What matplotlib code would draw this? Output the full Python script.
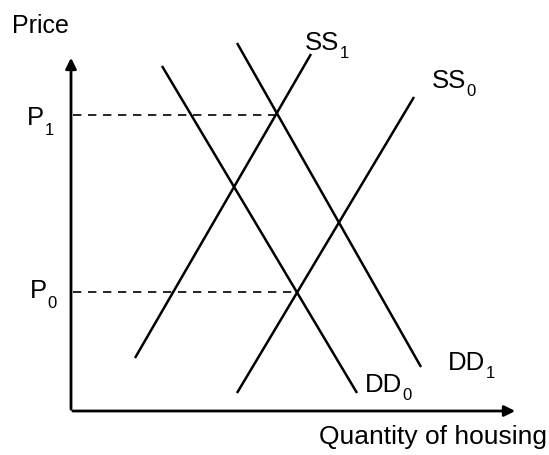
import matplotlib
matplotlib.use('Agg')
import matplotlib.pyplot as plt

# 供求曲线的端点 (数量, 价格)
dd0_q = [91, 286]
dd0_p = [345, 18]
dd1_q = [166, 350]
dd1_p = [368, 44]
ss0_q = [166, 343]
ss0_p = [18, 314]
ss1_q = [64, 240]
ss1_p = [53, 357]

# 均衡点
p_levels = [119, 296]
p_quantities = [226, 206]

# 标签: (主体, 下标, x, 基线y)
curve_labels = [('SS', '1', 234, 361), ('SS', '0', 361, 323),
                ('DD', '0', 294, 19), ('DD', '1', 377, 41)]
price_labels = [('P', '0', -41, 113), ('P', '1', -44, 286)]

plt.rcParams['font.family'] = ['Liberation Sans', 'DejaVu Sans']

fig = plt.figure(figsize=(5.49, 4.55), dpi=100)
ax = fig.add_axes([0, 0, 1, 1])
ax.set_xlim(-71, 478)
ax.set_ylim(-44, 411)
ax.axis('off')


def label(main, sub, x, y, size=18.5, drop=-4):
    t = ax.text(x, y, main, fontsize=size, ha='left', va='baseline')
    ax.annotate(sub, xy=(1, 0), xycoords=t, xytext=(0.3, drop),
                textcoords='offset points', fontsize=12, ha='left', va='bottom')


# 坐标轴
ax.annotate('', xy=(0, 356), xytext=(0, -1),
            arrowprops=dict(arrowstyle='-|>', lw=2, color='black', mutation_scale=16))
ax.annotate('', xy=(447, 0), xytext=(-1, 0),
            arrowprops=dict(arrowstyle='-|>', lw=2, color='black', mutation_scale=16))

# 曲线
for q, p in [(dd0_q, dd0_p), (dd1_q, dd1_p), (ss0_q, ss0_p), (ss1_q, ss1_p)]:
    ax.plot(q, p, color='black', lw=1.8, solid_capstyle='butt')

# 虚线
for lvl, q in zip(p_levels, p_quantities):
    ax.plot([2, q], [lvl, lvl], color='black', lw=1.2, dashes=(5, 4))

for main, sub, x, y in curve_labels:
    label(main, sub, x, y)
for main, sub, x, y in price_labels:
    label(main, sub, x, y, drop=-6)

ax.text(-59, 378, 'Price', fontsize=18, ha='left', va='baseline')
ax.text(476, -33, 'Quantity of housing', fontsize=19, ha='right', va='baseline')

fig.savefig('out.png', dpi=100)
